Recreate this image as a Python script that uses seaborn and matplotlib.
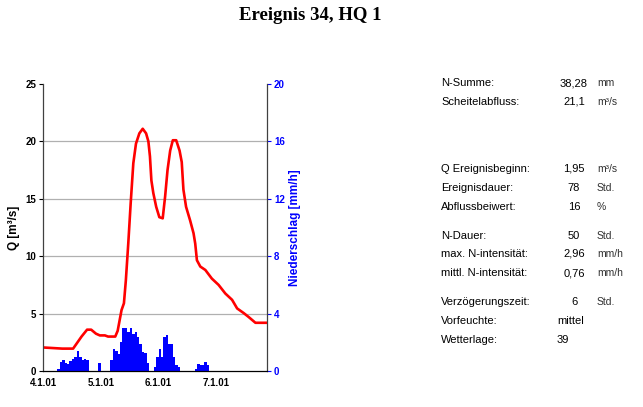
import matplotlib
matplotlib.use("Agg")
import matplotlib.pyplot as plt
import seaborn as sns
import numpy as np
import pandas as pd

# ---- data -------------------------------------------------------------
q_hours = [0, 4, 8, 12.5, 13, 16, 18.3, 20, 22, 23.6, 25.7, 27, 30, 31, 32.6, 33.6,
           34.4, 35.4, 36.4, 37.5, 38.6, 40, 41.4, 42.8, 43.75, 44.4, 45, 45.8, 47,
           48.3, 49.7, 50.7, 51.7, 52.8, 53.9, 55.3, 56.7, 57.6, 58.3, 59.4, 61.1,
           62.5, 63.2, 63.9, 65.3, 67.4, 70.1, 72.9, 75.7, 78.5, 80.6, 83.3, 85.4,
           88.2, 92.4, 93]
q_values = [2.05, 2.0, 1.95, 1.95, 2.1, 3.0, 3.6, 3.6, 3.25, 3.1, 3.1, 3.0, 3.0, 3.5,
            5.3, 5.9, 7.9, 11.1, 14.6, 18.1, 19.8, 20.7, 21.1, 20.7, 20.0, 18.7, 16.6,
            15.5, 14.3, 13.4, 13.3, 15.2, 17.5, 19.2, 20.1, 20.1, 19.2, 18.2, 15.8,
            14.3, 13.1, 12.0, 11.1, 9.65, 9.1, 8.8, 8.05, 7.5, 6.75, 6.2, 5.45, 5.05,
            4.7, 4.2, 4.2, 4.2]

rain_hours = [6, 7, 8, 9, 10, 11, 12, 13, 14, 15, 16, 17, 18,
              23,
              28, 29, 30, 31, 32, 33, 34, 35, 36, 37, 38, 39, 40, 41, 42, 43,
              46, 47, 48, 49, 50, 51, 52, 53, 54, 55, 56,
              63, 64, 65, 66, 67, 68]
rain_values = [0.15, 0.65, 0.8, 0.55, 0.5, 0.7, 0.85, 1.0, 1.4, 0.95, 0.75, 0.85, 0.8,
               0.55,
               0.75, 1.5, 1.4, 1.2, 2.0, 3.0, 3.0, 2.7, 3.0, 2.6, 2.7, 2.4, 1.85, 1.3, 1.25, 0.55,
               0.3, 1.0, 1.5, 1.0, 2.4, 2.5, 1.85, 1.9, 1.0, 0.4, 0.3,
               0.15, 0.5, 0.4, 0.45, 0.6, 0.4]

day_ticks = [0, 24, 48, 72]
day_labels = ["4.1.01", "5.1.01", "6.1.01", "7.1.01"]

title = "Ereignis 34, HQ 1"
stat_labels = ["N-Summe:", "Scheitelabfluss:", "Q Ereignisbeginn:", "Ereignisdauer:",
               "Abflussbeiwert:", "N-Dauer:", "max. N-intensität:", "mittl. N-intensität:",
               "Verzögerungszeit:", "Vorfeuchte:", "Wetterlage:"]
stat_values = ["38,28", "21,1", "1,95", "78", "16", "50", "2,96", "0,76", "6", "mittel", "39"]
stat_units = ["mm", "m³/s", "m³/s", "Std.", "%", "Std.", "mm/h", "mm/h", "Std.", "", ""]

# ---- figure -----------------------------------------------------------
sns.set_style("white")
plt.rcParams['font.family'] = ['Liberation Sans', 'DejaVu Sans']
plt.rcParams['text.color'] = 'black'
plt.rcParams['axes.labelcolor'] = 'black'
plt.rcParams['xtick.color'] = 'black'
plt.rcParams['ytick.color'] = 'black'

W, H = 643, 407
fig = plt.figure(figsize=(W / 100, H / 100), dpi=100)
ax_l, ax_r, ax_t, ax_b = 43, 267, 84, 371
ax = fig.add_axes([ax_l / W, 1 - ax_b / H, (ax_r - ax_l) / W, (ax_b - ax_t) / H])
ax2 = ax.twinx()

# rain bars on right axis
rain_df = pd.DataFrame({"h": rain_hours, "n": rain_values})
sns.histplot(data=rain_df, x="h", weights="n", binwidth=1, binrange=(0, 93),
             color="#0000ff", alpha=1, linewidth=0, ax=ax2, zorder=2)
ax2.set_ylim(0, 20)
ax2.set_yticks([0, 4, 8, 12, 16, 20])
ax2.set_ylabel("Niederschlag [mm/h]", color="#0000ff", fontweight="bold", fontsize=8.5,
               labelpad=3)
ax2.tick_params(axis="y", colors="#0000ff", labelsize=7, length=3, direction="out", pad=2)
for t in ax2.get_yticklabels():
    t.set_fontweight("bold")
    t.set_color("#0000ff")

# discharge line
q_df = pd.DataFrame({"h": q_hours, "q": q_values})
ax.set_zorder(ax2.get_zorder() + 1)
ax.patch.set_visible(False)
sns.lineplot(data=q_df, x="h", y="q", color="#ff0000", linewidth=1.9, ax=ax)
ax.set_xlim(0, 93)
ax.set_ylim(0, 25)
ax.set_yticks([0, 5, 10, 15, 20, 25])
ax.set_xticks(day_ticks)
ax.set_xticklabels(day_labels)
ax.set_xlabel("")
ax.set_ylabel("Q [m³/s]", fontweight="bold", fontsize=8.5, labelpad=4)
ax.tick_params(axis="both", labelsize=7, length=3, direction="out", pad=2, colors="black")
for t in ax.get_yticklabels() + ax.get_xticklabels():
    t.set_fontweight("bold")
ax2.set_xlim(0, 93)

# grid lines
for g in [5, 10, 15, 20]:
    ax2.axhline(g * 20 / 25, color="#b0b0b0", linewidth=0.9, zorder=0)

for a in (ax, ax2):
    a.spines["top"].set_visible(False)
    a.spines["left"].set_color("#404040")
    a.spines["right"].set_color("#404040")
    a.spines["bottom"].set_color("#000000")
    for s in a.spines.values():
        s.set_linewidth(0.9)
ax.spines["right"].set_visible(False)
ax2.spines["left"].set_visible(False)
ax2.spines["bottom"].set_visible(False)

# title
fig.text(310 / W, 1 - 16 / H, title, ha="center", va="center", fontsize=13.5,
         fontweight="bold", family="Liberation Serif", color="black")

# statistics table
rows_y = [83, 102, 169, 188, 207, 236, 254, 273, 302, 321, 340]
for lab, val, unit, y in zip(stat_labels, stat_values, stat_units, rows_y):
    fig.text(441 / W, 1 - y / H, lab, ha="left", va="center", fontsize=8, color="black")
    if val in ("mittel", "39"):
        fig.text(557 / W, 1 - y / H, val, ha="left", va="center", fontsize=8, color="black")
    else:
        fig.text(574 / W, 1 - y / H, val, ha="center", va="center", fontsize=8, color="black")
    if unit:
        fig.text(597 / W, 1 - y / H, unit, ha="left", va="center", fontsize=7.5,
                 color="#303030")

fig.savefig("out.png", dpi=100)
